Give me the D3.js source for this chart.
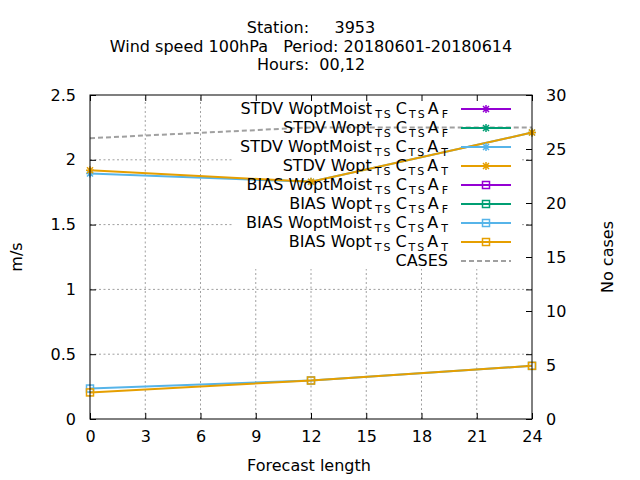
<!DOCTYPE html>
<html>
<head>
<meta charset="utf-8">
<script src="https://cdn.jsdelivr.net/npm/d3@7"></script>
<style>
  body { margin: 0; background: #fff; }
  svg { font-family: "DejaVu Sans", sans-serif; }
</style>
</head>
<body>
<div id="chart"></div>
<script>
// forecast lengths with data
const hours = [0, 12, 24];
const xTicks = [0, 3, 6, 9, 12, 15, 18, 21, 24];
const yTicks = [0, 0.5, 1, 1.5, 2, 2.5];
const y2Ticks = [0, 5, 10, 15, 20, 25, 30];

// series values (m/s); the *_F runs have no data
const stdvMoistF = [];
const stdvWoptF = [];
const stdvMoistT = [1.895, 1.83, 2.21];
const stdvWoptT = [1.92, 1.83, 2.21];
const biasMoistF = [];
const biasWoptF = [];
const biasMoistT = [0.235, 0.297, 0.41];
const biasWoptT = [0.205, 0.297, 0.41];
const cases = [26, 27, 27];

const titleLines = ["Station:     3953", "Wind speed 100hPa   Period: 20180601-20180614", "Hours:  00,12"];

const series = [
  { kind: "STDV", name: "WoptMoist", tag: "F", color: "#9400d3", marker: "star", values: stdvMoistF },
  { kind: "STDV", name: "Wopt", tag: "F", color: "#009e73", marker: "star", values: stdvWoptF },
  { kind: "STDV", name: "WoptMoist", tag: "T", color: "#56b4e9", marker: "star", values: stdvMoistT },
  { kind: "STDV", name: "Wopt", tag: "T", color: "#e69f00", marker: "star", values: stdvWoptT },
  { kind: "BIAS", name: "WoptMoist", tag: "F", color: "#9400d3", marker: "square", values: biasMoistF },
  { kind: "BIAS", name: "Wopt", tag: "F", color: "#009e73", marker: "square", values: biasWoptF },
  { kind: "BIAS", name: "WoptMoist", tag: "T", color: "#56b4e9", marker: "square", values: biasMoistT },
  { kind: "BIAS", name: "Wopt", tag: "T", color: "#e69f00", marker: "square", values: biasWoptT }
];

const width = 640, height = 480;
const plotLeft = 90, plotRight = 532, plotTop = 95, plotBottom = 419;

const svg = d3.select("#chart").append("svg")
  .attr("width", width)
  .attr("height", height);

const x = d3.scaleLinear().domain([0, 24]).range([plotLeft, plotRight]);
const y = d3.scaleLinear().domain([0, 2.5]).range([plotBottom, plotTop]);
const y2 = d3.scaleLinear().domain([0, 30]).range([plotBottom, plotTop]);

const starPath = "M-4,0H4M0,-4V4M-3,-3L3,3M-3,3L3,-3";

// grid
const grid = svg.append("g")
  .attr("stroke", "#a0a0a0")
  .attr("stroke-width", 1)
  .attr("stroke-dasharray", "2,2.5");
grid.selectAll(".gx")
  .data(xTicks.slice(1, -1))
  .join("line")
  .attr("x1", d => x(d)).attr("x2", d => x(d))
  .attr("y1", plotBottom).attr("y2", plotTop);
grid.selectAll(".gy")
  .data(yTicks.slice(1, -1))
  .join("line")
  .attr("x1", plotLeft).attr("x2", plotRight)
  .attr("y1", d => y(d)).attr("y2", d => y(d));

// opaque key box sits over the grid
svg.append("rect")
  .attr("x", 232).attr("y", plotTop + 1)
  .attr("width", 288).attr("height", 173)
  .attr("fill", "#fff");

// axes, ticks inward
const axisX = d3.axisBottom(x).tickValues(xTicks).tickSize(-6).tickPadding(12);
const axisXTop = d3.axisTop(x).tickValues(xTicks).tickSize(-6).tickFormat("");
const axisY = d3.axisLeft(y).tickValues(yTicks).tickSize(-6).tickPadding(14).tickFormat(d3.format("~g"));
const axisYMirror = d3.axisRight(y).tickValues(yTicks).tickSize(-6).tickFormat("");
const axisY2 = d3.axisRight(y2).tickValues(y2Ticks).tickSize(-6).tickPadding(14);

function styleAxis(g) {
  g.select(".domain").remove();
  g.selectAll("line").attr("stroke", "#000");
  g.selectAll("text").attr("fill", "#000").attr("font-size", 16)
    .attr("font-family", "DejaVu Sans, sans-serif");
}

svg.append("g").attr("transform", `translate(0,${plotBottom})`).call(axisX).call(styleAxis);
svg.append("g").attr("transform", `translate(0,${plotTop})`).call(axisXTop).call(styleAxis);
svg.append("g").attr("transform", `translate(${plotLeft},0)`).call(axisY).call(styleAxis);
svg.append("g").attr("transform", `translate(${plotRight},0)`).call(axisYMirror).call(styleAxis);
svg.append("g").attr("transform", `translate(${plotRight},0)`).call(axisY2).call(styleAxis);

function drawMarkers(g, s, pts) {
  if (s.marker === "star") {
    g.selectAll(null).data(pts).join("path")
      .attr("transform", d => `translate(${d[0]},${d[1]})`)
      .attr("d", starPath)
      .attr("stroke", s.color)
      .attr("stroke-width", 1.5)
      .attr("fill", "none");
  } else {
    g.selectAll(null).data(pts).join("rect")
      .attr("x", d => d[0] - 3.5).attr("y", d => d[1] - 3.5)
      .attr("width", 7).attr("height", 7)
      .attr("stroke", s.color)
      .attr("stroke-width", 1.5)
      .attr("fill", "none");
  }
}

// data lines
const line = d3.line().x((d, i) => x(hours[i])).y(d => y(d));
const plot = svg.append("g");

series.forEach(s => {
  if (!s.values.length) return;
  plot.append("path")
    .datum(s.values)
    .attr("fill", "none")
    .attr("stroke", s.color)
    .attr("stroke-width", 2)
    .attr("d", line);
  drawMarkers(plot, s, s.values.map((v, i) => [x(hours[i]), y(v)]));
});

plot.append("path")
  .datum(cases)
  .attr("fill", "none")
  .attr("stroke", "#a0a0a0")
  .attr("stroke-width", 2)
  .attr("stroke-dasharray", "5,3")
  .attr("d", d3.line().x((d, i) => x(hours[i])).y(d => y2(d)));

// border
svg.append("rect")
  .attr("x", plotLeft).attr("y", plotTop)
  .attr("width", plotRight - plotLeft).attr("height", plotBottom - plotTop)
  .attr("fill", "none")
  .attr("stroke", "#000")
  .attr("stroke-width", 1);

// key
const key = svg.append("g").attr("font-size", 16).attr("fill", "#000");
const keyTextX = 448, sampleX1 = 461, sampleX2 = 511;
const subSize = 11, subDrop = 3.5;

function keyLabel(row, s) {
  const t = key.append("text")
    .attr("x", keyTextX)
    .attr("y", row + 5)
    .attr("text-anchor", "end");
  t.append("tspan").text(`${s.kind} ${s.name}`);
  t.append("tspan").attr("dx", 3).attr("dy", subDrop).attr("font-size", subSize).attr("letter-spacing", 2).text("TS");
  t.append("tspan").attr("dx", 3).attr("dy", -subDrop).text("C");
  t.append("tspan").attr("dx", 2).attr("dy", subDrop).attr("font-size", subSize).attr("letter-spacing", 2).text("TS");
  t.append("tspan").attr("dx", 1).attr("dy", -subDrop).text("A");
  t.append("tspan").attr("dx", 3).attr("dy", subDrop).attr("font-size", subSize).text(s.tag);
}

series.forEach((s, i) => {
  const row = 109 + i * 19;
  keyLabel(row, s);
  key.append("line")
    .attr("x1", sampleX1).attr("x2", sampleX2)
    .attr("y1", row).attr("y2", row)
    .attr("stroke", s.color).attr("stroke-width", 2);
  drawMarkers(key, s, [[(sampleX1 + sampleX2) / 2, row]]);
});

const casesRow = 109 + 8 * 19;
key.append("text")
  .attr("x", keyTextX).attr("y", casesRow + 5)
  .attr("text-anchor", "end")
  .text("CASES");
key.append("line")
  .attr("x1", sampleX1).attr("x2", sampleX2)
  .attr("y1", casesRow).attr("y2", casesRow)
  .attr("stroke", "#a0a0a0").attr("stroke-width", 2)
  .attr("stroke-dasharray", "5,3");

// titles and axis labels
svg.append("g").attr("font-size", 16).attr("text-anchor", "middle")
  .selectAll("text")
  .data(titleLines)
  .join("text")
  .attr("x", 311)
  .attr("y", (d, i) => 33 + i * 18.5)
  .attr("xml:space", "preserve")
  .style("white-space", "pre")
  .text(d => d);

svg.append("text")
  .attr("x", 309).attr("y", 471)
  .attr("text-anchor", "middle").attr("font-size", 16)
  .text("Forecast length");

svg.append("text")
  .attr("transform", "translate(22,257) rotate(-90)")
  .attr("text-anchor", "middle").attr("font-size", 16)
  .text("m/s");

svg.append("text")
  .attr("transform", "translate(613,257) rotate(-90)")
  .attr("text-anchor", "middle").attr("font-size", 16)
  .text("No cases");
</script>
</body>
</html>
